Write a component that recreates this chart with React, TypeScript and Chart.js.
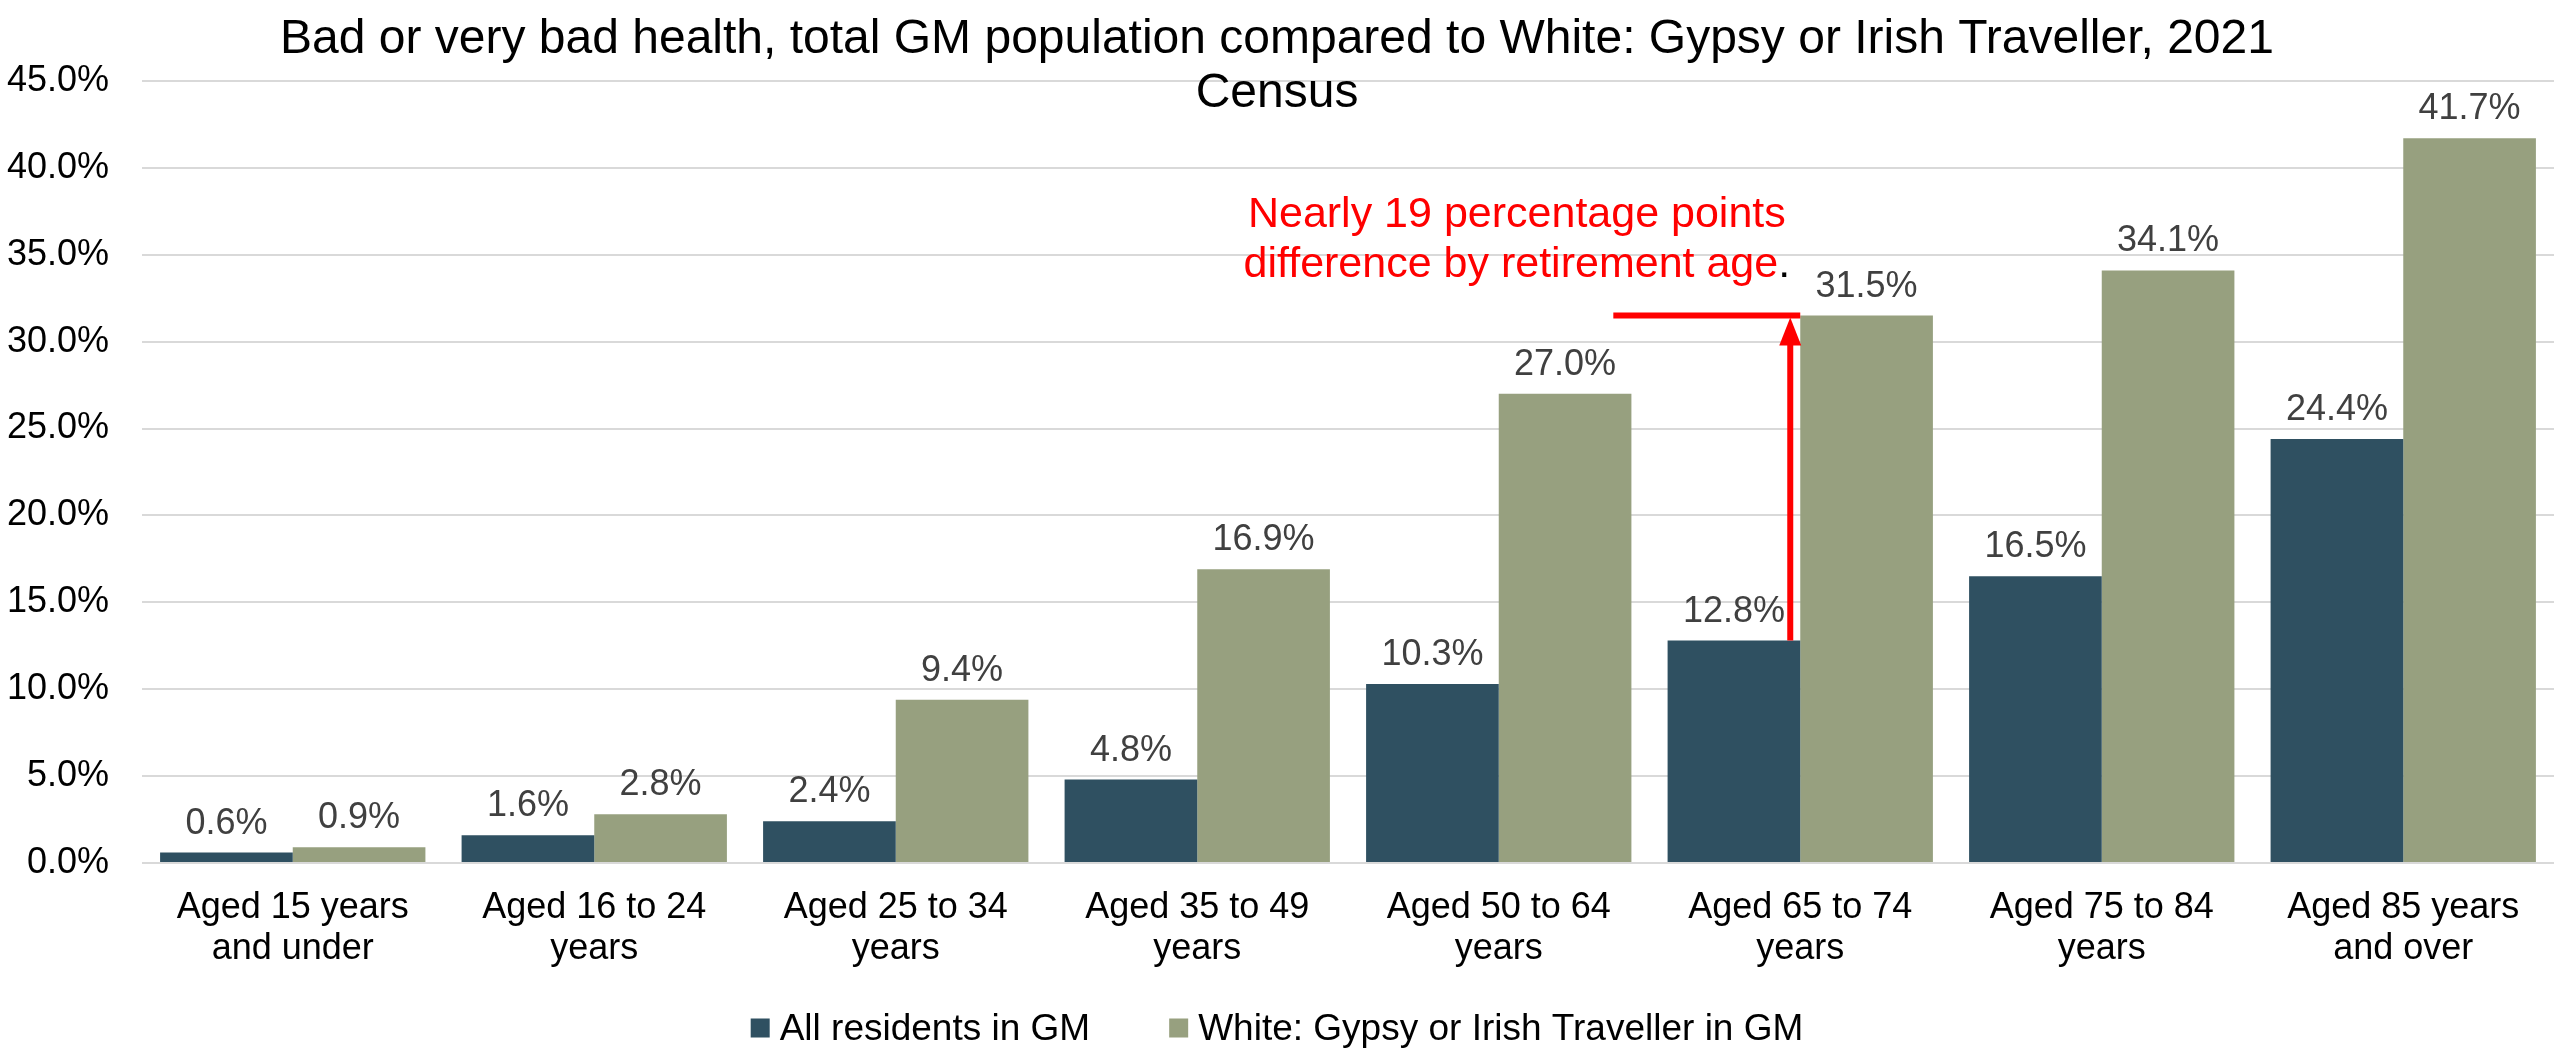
import React, { useEffect, useRef } from "react";
import { Chart, registerables } from "chart.js";

Chart.register(...registerables);

const categories: string[][] = [
  ["Aged 15 years", "and under"],
  ["Aged 16 to 24", "years"],
  ["Aged 25 to 34", "years"],
  ["Aged 35 to 49", "years"],
  ["Aged 50 to 64", "years"],
  ["Aged 65 to 74", "years"],
  ["Aged 75 to 84", "years"],
  ["Aged 85 years", "and over"],
];
const allResidents = [0.6, 1.6, 2.4, 4.8, 10.3, 12.8, 16.5, 24.4];
const gypsyTraveller = [0.9, 2.8, 9.4, 16.9, 27.0, 31.5, 34.1, 41.7];
const seriesNames = ["All residents in GM", "White: Gypsy or Irish Traveller in GM"];
const seriesColors = ["#2F5061", "#97A07F"];
const titleLines = [
  "Bad or very bad health, total GM population compared to White: Gypsy or Irish Traveller, 2021",
  "Census",
];
const annotationLines = ["Nearly 19 percentage points", "difference by retirement age"];
const annotationIndex = 5;
const yMin = 0;
const yMax = 45;
const yStep = 5;

const FONT = "'Liberation Sans', Arial, sans-serif";
const W = 2554;
const H = 1059;

const overlayPlugin = {
  id: "overlay",
  afterDraw(chart: any) {
    const ctx = chart.ctx as CanvasRenderingContext2D;
    const xs = chart.scales.x;
    const ys = chart.scales.y;
    ctx.save();

    // data labels
    ctx.font = `36px ${FONT}`;
    ctx.fillStyle = "#404040";
    ctx.textAlign = "center";
    ctx.textBaseline = "alphabetic";
    chart.data.datasets.forEach((ds: any, di: number) => {
      const meta = chart.getDatasetMeta(di);
      meta.data.forEach((el: any, i: number) => {
        const v = ds.data[i] as number;
        ctx.fillText(v.toFixed(1) + "%", el.x, el.y - 19);
      });
    });

    // title
    ctx.fillStyle = "#000000";
    ctx.font = `48px ${FONT}`;
    ctx.textAlign = "center";
    ctx.fillText(titleLines[0], chart.width / 2, 53);
    ctx.fillText(titleLines[1], chart.width / 2, 107);

    // annotation
    const darkBar = chart.getDatasetMeta(0).data[annotationIndex] as any;
    const barRight = darkBar.x + darkBar.width / 2;
    const yLow = ys.getPixelForValue(allResidents[annotationIndex]);
    const yHigh = ys.getPixelForValue(gypsyTraveller[annotationIndex]);
    const ax = barRight - 10;
    ctx.strokeStyle = "#FF0000";
    ctx.fillStyle = "#FF0000";
    ctx.lineWidth = 6;
    ctx.beginPath();
    ctx.moveTo(xs.getPixelForValue(4.38), yHigh);
    ctx.lineTo(barRight, yHigh);
    ctx.stroke();
    ctx.beginPath();
    ctx.moveTo(ax, yLow);
    ctx.lineTo(ax, yHigh + 22);
    ctx.stroke();
    ctx.beginPath();
    ctx.moveTo(ax, yHigh + 2);
    ctx.lineTo(ax - 11, yHigh + 30);
    ctx.lineTo(ax + 11, yHigh + 30);
    ctx.closePath();
    ctx.fill();

    ctx.font = `43px ${FONT}`;
    const cx = xs.getPixelForValue(4.06);
    ctx.textAlign = "center";
    ctx.fillText(annotationLines[0], cx, yHigh - 89);
    const w2 = ctx.measureText(annotationLines[1]).width;
    const wDot = ctx.measureText(".").width;
    const start2 = cx - (w2 + wDot) / 2;
    ctx.textAlign = "left";
    ctx.fillText(annotationLines[1], start2, yHigh - 39);
    ctx.fillStyle = "#000000";
    ctx.fillText(".", start2 + w2, yHigh - 39);

    // legend
    ctx.font = `37px ${FONT}`;
    const box = 19;
    const gapBoxText = 10;
    const gapItems = 79;
    const widths = seriesNames.map((n) => ctx.measureText(n).width);
    const total = widths.reduce((a, w) => a + box + gapBoxText + w, 0) + gapItems * (seriesNames.length - 1);
    let lx = chart.width / 2 - total / 2;
    const ly = 1028;
    ctx.textAlign = "left";
    ctx.textBaseline = "alphabetic";
    seriesNames.forEach((n, i) => {
      ctx.fillStyle = seriesColors[i];
      ctx.fillRect(lx, ly - box / 2, box, box);
      ctx.fillStyle = "#000000";
      ctx.fillText(n, lx + box + gapBoxText, ly + 12);
      lx += box + gapBoxText + widths[i] + gapItems;
    });

    ctx.restore();
  },
};

export default function App() {
  const ref = useRef<HTMLCanvasElement | null>(null);
  useEffect(() => {
    document.body.style.margin = "0";
    const canvas = ref.current;
    if (!canvas) return;
    const chart = new Chart(canvas, {
      type: "bar",
      data: {
        labels: categories,
        datasets: [
          {
            label: seriesNames[0],
            data: allResidents,
            backgroundColor: seriesColors[0],
            borderWidth: 0,
            categoryPercentage: 0.88,
            barPercentage: 1.0,
          },
          {
            label: seriesNames[1],
            data: gypsyTraveller,
            backgroundColor: seriesColors[1],
            borderWidth: 0,
            categoryPercentage: 0.88,
            barPercentage: 1.0,
          },
        ],
      },
      options: {
        animation: false,
        responsive: false,
        maintainAspectRatio: false,
        devicePixelRatio: 1,
        layout: { padding: { top: 81, left: 0, right: 0, bottom: 86 } },
        plugins: {
          legend: { display: false },
          title: { display: false },
          tooltip: { enabled: false },
        },
        scales: {
          x: {
            grid: { display: false },
            border: { display: false },
            ticks: {
              color: "#000000",
              font: { family: FONT, size: 36, lineHeight: 1.14 },
              padding: 17,
              maxRotation: 0,
              autoSkip: false,
            },
            afterFit(scale: any) {
              scale.height = 110;
            },
          },
          y: {
            min: yMin,
            max: yMax,
            grid: { color: "#D9D9D9", lineWidth: 2, drawTicks: false },
            border: { display: false },
            ticks: {
              stepSize: yStep,
              color: "#000000",
              font: { family: FONT, size: 36 },
              padding: 33,
              callback: (v: any) => Number(v).toFixed(1) + "%",
            },
            afterFit(scale: any) {
              scale.width = 142;
            },
          },
        },
      },
      plugins: [overlayPlugin],
    });
    return () => chart.destroy();
  }, []);
  return (
    <div style={{ width: W, height: H }}>
      <canvas ref={ref} width={W} height={H} style={{ display: "block", width: W, height: H }} />
    </div>
  );
}
